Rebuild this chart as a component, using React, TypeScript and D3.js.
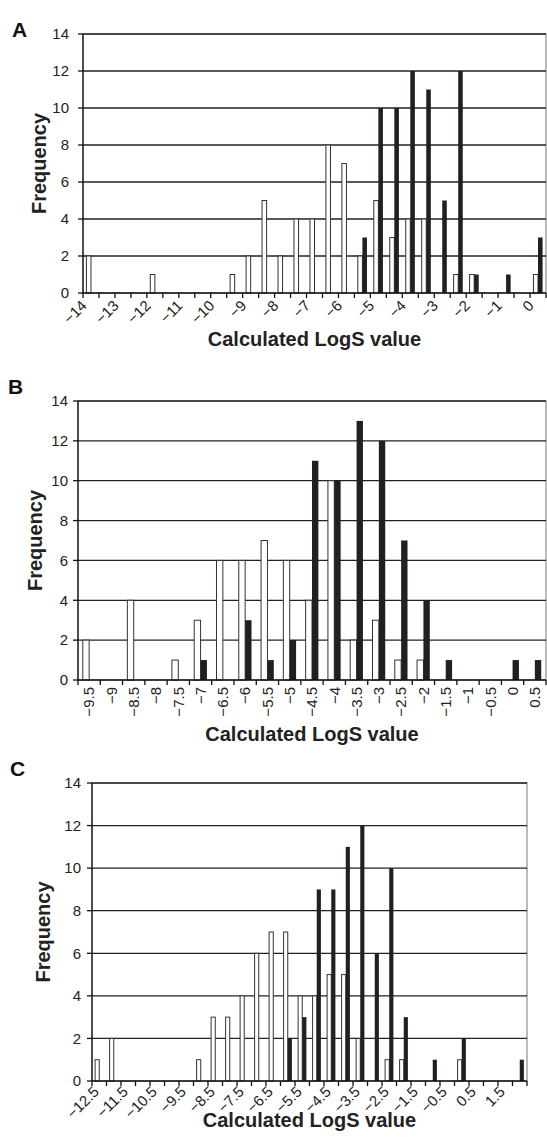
import React from 'react';
import * as d3 from 'd3';

// ---------- data ----------
const catsA = [-14, -13.5, -13, -12.5, -12, -11.5, -11, -10.5, -10, -9.5, -9, -8.5, -8, -7.5, -7, -6.5, -6, -5.5, -5, -4.5, -4, -3.5, -3, -2.5, -2, -1.5, -1, -0.5, 0];
const whiteA = [2, 0, 0, 0, 1, 0, 0, 0, 0, 1, 2, 5, 2, 4, 4, 8, 7, 2, 5, 3, 4, 4, 0, 1, 1, 0, 0, 0, 1];
const blackA = [0, 0, 0, 0, 0, 0, 0, 0, 0, 0, 0, 0, 0, 0, 0, 0, 0, 3, 10, 10, 12, 11, 5, 12, 1, 0, 1, 0, 3];

const catsB = [-9.5, -9, -8.5, -8, -7.5, -7, -6.5, -6, -5.5, -5, -4.5, -4, -3.5, -3, -2.5, -2, -1.5, -1, -0.5, 0, 0.5];
const whiteB = [2, 0, 4, 0, 1, 3, 6, 6, 7, 6, 4, 10, 2, 3, 1, 1, 0, 0, 0, 0, 0];
const blackB = [0, 0, 0, 0, 0, 1, 0, 3, 1, 2, 11, 10, 13, 12, 7, 4, 1, 0, 0, 1, 1];

const catsC = [-12.5, -12, -11.5, -11, -10.5, -10, -9.5, -9, -8.5, -8, -7.5, -7, -6.5, -6, -5.5, -5, -4.5, -4, -3.5, -3, -2.5, -2, -1.5, -1, -0.5, 0, 0.5, 1, 1.5, 2];
const whiteC = [1, 2, 0, 0, 0, 0, 0, 1, 3, 3, 4, 6, 7, 7, 4, 4, 5, 5, 2, 0, 1, 1, 0, 0, 0, 1, 0, 0, 0, 0];
const blackC = [0, 0, 0, 0, 0, 0, 0, 0, 0, 0, 0, 0, 0, 2, 3, 9, 9, 11, 12, 6, 10, 3, 0, 1, 0, 2, 0, 0, 0, 1];

const yTicks = [0, 2, 4, 6, 8, 10, 12, 14];
const seriesKeys = ['white', 'black'];

const FONT = "'Liberation Sans', Arial, Helvetica, sans-serif";

const fmt = (v: number) => (v < 0 ? '\u2212' + String(-v) : String(v));

type PanelProps = {
  letter: string;
  cats: number[];
  white: number[];
  black: number[];
  left: number;
  right: number;
  top: number;
  bottom: number;
  labelMode: 'diag' | 'vert';
  labelEvery: number;
  labelDx: number;
  labelY: number;
  yLabelGap: number;
  freqX: number;
  titleY: number;
  letterPos: [number, number];
};

function Panel(p: PanelProps) {
  const x = d3
    .scaleBand<number>()
    .domain(d3.range(p.cats.length))
    .range([p.left, p.right])
    .padding(0);
  const x1 = d3
    .scaleBand<string>()
    .domain(seriesKeys)
    .range([0, x.bandwidth()])
    .paddingInner(0)
    .paddingOuter(0.75);
  const y = d3.scaleLinear().domain([0, 14]).range([p.bottom, p.top]);
  const bw = x1.bandwidth();
  const boundaries = d3.range(p.cats.length + 1).map((i) => p.left + i * x.step());

  return (
    <g>
      <text x={p.letterPos[0]} y={p.letterPos[1]} fontFamily={FONT} fontWeight="bold" fontSize={21} fill="#111">
        {p.letter}
      </text>
      {/* plot frame */}
      <rect x={p.left} y={p.top} width={p.right - p.left} height={p.bottom - p.top} fill="none" stroke="#777" strokeWidth={1} />
      {/* gridlines */}
      {yTicks.filter((t) => t > 0).map((t) => (
        <line key={'g' + t} x1={p.left} x2={p.right} y1={y(t)} y2={y(t)} stroke="#222" strokeWidth={1.3} />
      ))}
      {/* bars */}
      {p.cats.map((c, i) => (
        <g key={'b' + i}>
          {p.white[i] > 0 && (
            <rect
              x={(x(i) as number) + (x1('white') as number)}
              y={y(p.white[i])}
              width={bw}
              height={y(0) - y(p.white[i])}
              fill="#fff"
              stroke="#333"
              strokeWidth={1}
            />
          )}
          {p.black[i] > 0 && (
            <rect
              x={(x(i) as number) + (x1('black') as number)}
              y={y(p.black[i])}
              width={bw}
              height={y(0) - y(p.black[i])}
              fill="#231f20"
            />
          )}
        </g>
      ))}
      {/* axes */}
      <line x1={p.left} x2={p.left} y1={p.top} y2={p.bottom} stroke="#111" strokeWidth={1.3} />
      <line x1={p.left} x2={p.right} y1={p.bottom} y2={p.bottom} stroke="#111" strokeWidth={1.3} />
      {yTicks.map((t) => (
        <g key={'yt' + t}>
          <line x1={p.left - 5} x2={p.left} y1={y(t)} y2={y(t)} stroke="#111" strokeWidth={1.3} />
          <text
            x={p.left - p.yLabelGap}
            y={y(t)}
            dy="0.35em"
            textAnchor="end"
            fontFamily={FONT}
            fontSize={15}
            fill="#222"
          >
            {t}
          </text>
        </g>
      ))}
      {boundaries.map((bx, i) => (
        <line key={'xt' + i} x1={bx} x2={bx} y1={p.bottom} y2={p.bottom + 5} stroke="#111" strokeWidth={1.3} />
      ))}
      {p.cats.map((c, i) => {
        if (i % p.labelEvery !== 0) return null;
        const cx = (x(i) as number) + x.bandwidth() / 2 + p.labelDx;
        const rot = p.labelMode === 'diag' ? -45 : -90;
        return (
          <text
            key={'xl' + i}
            transform={`translate(${cx},${p.labelY}) rotate(${rot})`}
            dy="0.35em"
            textAnchor="end"
            fontFamily={FONT}
            fontSize={15}
            fill="#222"
          >
            {fmt(c)}
          </text>
        );
      })}
      <text
        transform={`translate(${p.freqX},${(p.top + p.bottom) / 2}) rotate(-90)`}
        textAnchor="middle"
        dy="0.35em"
        fontFamily={FONT}
        fontWeight="bold"
        fontSize={20}
        fill="#222"
      >
        Frequency
      </text>
      <text
        x={(p.left + p.right) / 2}
        y={p.titleY}
        textAnchor="middle"
        fontFamily={FONT}
        fontWeight="bold"
        fontSize={20}
        fill="#222"
      >
        Calculated LogS value
      </text>
    </g>
  );
}

export default function App() {
  return (
    <svg
      width={547}
      height={1142}
      viewBox="0 0 547 1142"
      style={{ position: 'absolute', left: 0, top: 0, display: 'block', background: '#fff' }}
    >
      <rect x={0} y={0} width={547} height={1142} fill="#fff" />
      <Panel
        letter="A"
        cats={catsA}
        white={whiteA}
        black={blackA}
        left={83}
        right={546}
        top={34}
        bottom={293}
        labelMode="diag"
        labelEvery={2}
        labelDx={-7}
        labelY={303}
        yLabelGap={14}
        freqX={39}
        titleY={346}
        letterPos={[12, 37]}
      />
      <Panel
        letter="B"
        cats={catsB}
        white={whiteB}
        black={blackB}
        left={78}
        right={546}
        top={401}
        bottom={680}
        labelMode="vert"
        labelEvery={1}
        labelDx={0}
        labelY={687}
        yLabelGap={10}
        freqX={35}
        titleY={741}
        letterPos={[8, 394]}
      />
      <Panel
        letter="C"
        cats={catsC}
        white={whiteC}
        black={blackC}
        left={92}
        right={527}
        top={783}
        bottom={1081}
        labelMode="diag"
        labelEvery={2}
        labelDx={-3}
        labelY={1089}
        yLabelGap={11}
        freqX={43}
        titleY={1127}
        letterPos={[10, 776]}
      />
    </svg>
  );
}
